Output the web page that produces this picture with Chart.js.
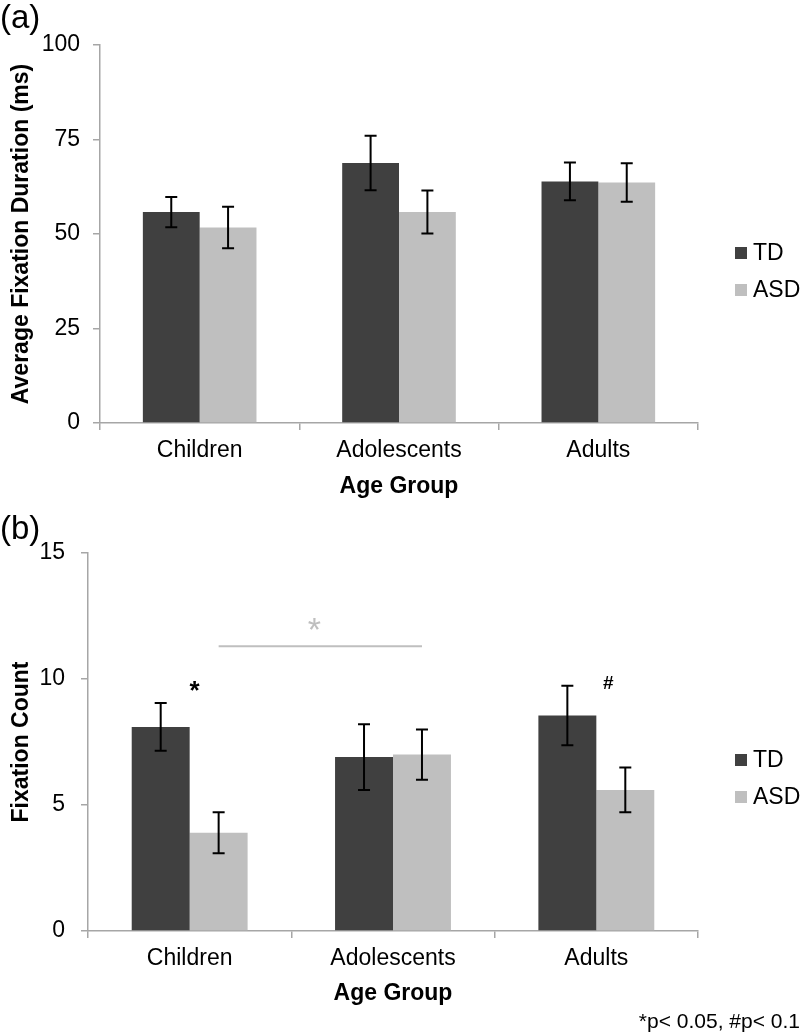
<!DOCTYPE html>
<html>
<head>
<meta charset="utf-8">
<script src="https://cdn.jsdelivr.net/npm/chart.js@4/dist/chart.umd.min.js"></script>
<style>
  body { margin: 0; background: #fff; width: 800px; height: 1035px; position: relative; overflow: hidden;
         font-family: "Liberation Sans", Arial, sans-serif; }
  canvas { position: absolute; left: 0; }
  #chartA { top: 0; }
  #chartB { top: 510px; }
  .tag { position: absolute; left: 0; font-size: 33px; line-height: 33px; }
  #note { position: absolute; right: 0; top: 1009px; font-size: 21px; line-height: 24px; }
</style>
</head>
<body>
<canvas id="chartA" width="800" height="510"></canvas>
<canvas id="chartB" width="800" height="525"></canvas>
<div class="tag" style="top:0px">(a)</div>
<div class="tag" style="top:511px">(b)</div>
<div id="note">*p&lt; 0.05, #p&lt; 0.1</div>
<script>
const ageGroups = ['Children', 'Adolescents', 'Adults']
const seriesNames = ['TD', 'ASD']
const seriesColors = ['#404040', '#bfbfbf']

// (a) average fixation duration
const durationTD = [55.8, 68.8, 63.9]
const durationASD = [51.7, 55.8, 63.6]
const durationErrTD = [4.0, 7.2, 5.0]
const durationErrASD = [5.5, 5.7, 5.1]
const durationTicks = [0, 25, 50, 75, 100]

// (b) fixation count
const countTD = [8.1, 6.9, 8.55]
const countASD = [3.9, 7.0, 5.6]
const countErrTD = [0.95, 1.3, 1.18]
const countErrASD = [0.81, 1.0, 0.89]
const countTicks = [0, 5, 10, 15]

const axisColor = '#a6a6a6'
const tickFont = { family: '"Liberation Sans", Arial, sans-serif', size: 23 }
const titleFont = { family: '"Liberation Sans", Arial, sans-serif', size: 23, weight: 'bold' }

const errorBars = {
    id: 'errorBars',
    afterDatasetsDraw(chart, args, opts) {
        const ctx = chart.ctx
        const y = chart.scales.y
        ctx.save()
        ctx.strokeStyle = '#000'
        ctx.lineWidth = 2
        opts.errors.forEach((errs, di) => {
            chart.getDatasetMeta(di).data.forEach((bar, i) => {
                const v = chart.data.datasets[di].data[i]
                const top = y.getPixelForValue(v + errs[i])
                const bottom = y.getPixelForValue(v - errs[i])
                ctx.beginPath()
                ctx.moveTo(bar.x, top); ctx.lineTo(bar.x, bottom)
                ctx.moveTo(bar.x - 6, top); ctx.lineTo(bar.x + 6, top)
                ctx.moveTo(bar.x - 6, bottom); ctx.lineTo(bar.x + 6, bottom)
                ctx.stroke()
            })
        })
        ctx.restore()
    }
}

const legendBox = {
    id: 'legendBox',
    afterDraw(chart, args, opts) {
        const ctx = chart.ctx
        ctx.save()
        ctx.font = '23px "Liberation Sans", Arial, sans-serif'
        ctx.textBaseline = 'middle'
        chart.data.datasets.forEach((ds, i) => {
            const cy = opts.y + i * 37
            ctx.fillStyle = ds.backgroundColor
            ctx.fillRect(opts.x, cy - 6, 12, 12)
            ctx.fillStyle = '#000'
            ctx.fillText(ds.label, opts.x + 18, cy + 1)
        })
        ctx.restore()
    }
}

const notes = {
    id: 'notes',
    afterDraw(chart, args, opts) {
        if (!opts.items) return
        const ctx = chart.ctx
        const y = chart.scales.y
        const metas = [chart.getDatasetMeta(0), chart.getDatasetMeta(1)]
        ctx.save()
        opts.items.forEach(it => {
            ctx.fillStyle = it.color
            ctx.font = it.font
            ctx.textAlign = 'center'
            ctx.textBaseline = 'alphabetic'
            if (it.type === 'bracket') {
                const x1 = metas[it.dataset].data[it.from].x
                const x2 = metas[it.dataset].data[it.to].x
                const py = y.getPixelForValue(it.value)
                ctx.strokeStyle = it.color
                ctx.lineWidth = 2
                ctx.beginPath(); ctx.moveTo(x1, py); ctx.lineTo(x2, py); ctx.stroke()
                ctx.fillText(it.text, (x1 + x2) / 2 + it.dx, y.getPixelForValue(it.textValue))
            } else {
                const gx = (metas[0].data[it.group].x + metas[1].data[it.group].x) / 2
                ctx.fillText(it.text, gx + it.dx, y.getPixelForValue(it.value))
            }
        })
        ctx.restore()
    }
}

function makeChart(id, cfg) {
    return new Chart(document.getElementById(id), {
        type: 'bar',
        data: {
            labels: ageGroups,
            datasets: seriesNames.map((name, i) => ({
                label: name,
                data: cfg.values[i],
                backgroundColor: seriesColors[i],
                categoryPercentage: cfg.catPct,
                barPercentage: 1
            }))
        },
        plugins: [errorBars, legendBox, notes],
        options: {
            responsive: false,
            animation: false,
            layout: { padding: { left: 0, right: 102, top: cfg.top, bottom: 0 } },
            plugins: {
                legend: { display: false },
                tooltip: { enabled: false },
                errorBars: { errors: cfg.errors },
                legendBox: { x: 735, y: cfg.legendY },
                notes: { items: cfg.notes }
            },
            scales: {
                x: {
                    grid: { offset: true, drawOnChartArea: false, tickLength: 7, color: axisColor, lineWidth: 1.5 },
                    border: { color: axisColor, width: 1.5 },
                    ticks: { font: tickFont, color: '#000', padding: 7 },
                    title: { display: true, text: 'Age Group', font: titleFont, color: '#000', padding: { top: 0, bottom: cfg.xTitlePad } },
                    afterFit: s => { s.height = cfg.xHeight }
                },
                y: {
                    min: 0,
                    max: cfg.ticks[cfg.ticks.length - 1],
                    afterBuildTicks: s => { s.ticks = cfg.ticks.map(v => ({ value: v })) },
                    grid: { drawOnChartArea: false, tickLength: 7, color: axisColor, lineWidth: 1.5 },
                    border: { color: axisColor, width: 1.5 },
                    ticks: { font: tickFont, color: '#000', padding: cfg.yTickPad },
                    title: { display: true, text: cfg.yTitle, font: titleFont, color: '#000', padding: { top: 8, bottom: 0 } },
                    afterFit: s => { s.width = cfg.yWidth }
                }
            }
        }
    })
}

makeChart('chartA', {
    values: [durationTD, durationASD],
    errors: [durationErrTD, durationErrASD],
    ticks: durationTicks,
    yTitle: 'Average Fixation Duration (ms)',
    catPct: 0.57,
    top: 45,
    xHeight: 87,
    xTitlePad: 10,
    yWidth: 100,
    yTickPad: 13,
    legendY: 253,
    notes: null
})

makeChart('chartB', {
    values: [countTD, countASD],
    errors: [countErrTD, countErrASD],
    ticks: countTicks,
    yTitle: 'Fixation Count',
    catPct: 0.57,
    top: 43,
    xHeight: 104,
    xTitlePad: 28,
    yWidth: 88,
    yTickPad: 16,
    legendY: 250,
    notes: [
        { type: 'bracket', dataset: 1, from: 0, to: 1, value: 11.3, color: '#bfbfbf', text: '*', textValue: 11.5, dx: -6, font: '34px "Liberation Sans", Arial, sans-serif' },
        { type: 'mark', group: 0, dx: 5, value: 9.2, color: '#000', text: '*', font: 'bold 26px "Liberation Sans", Arial, sans-serif' },
        { type: 'mark', group: 2, dx: 12, value: 9.6, color: '#000', text: '#', font: 'bold 19px "Liberation Sans", Arial, sans-serif' }
    ]
})
</script>
</body>
</html>
